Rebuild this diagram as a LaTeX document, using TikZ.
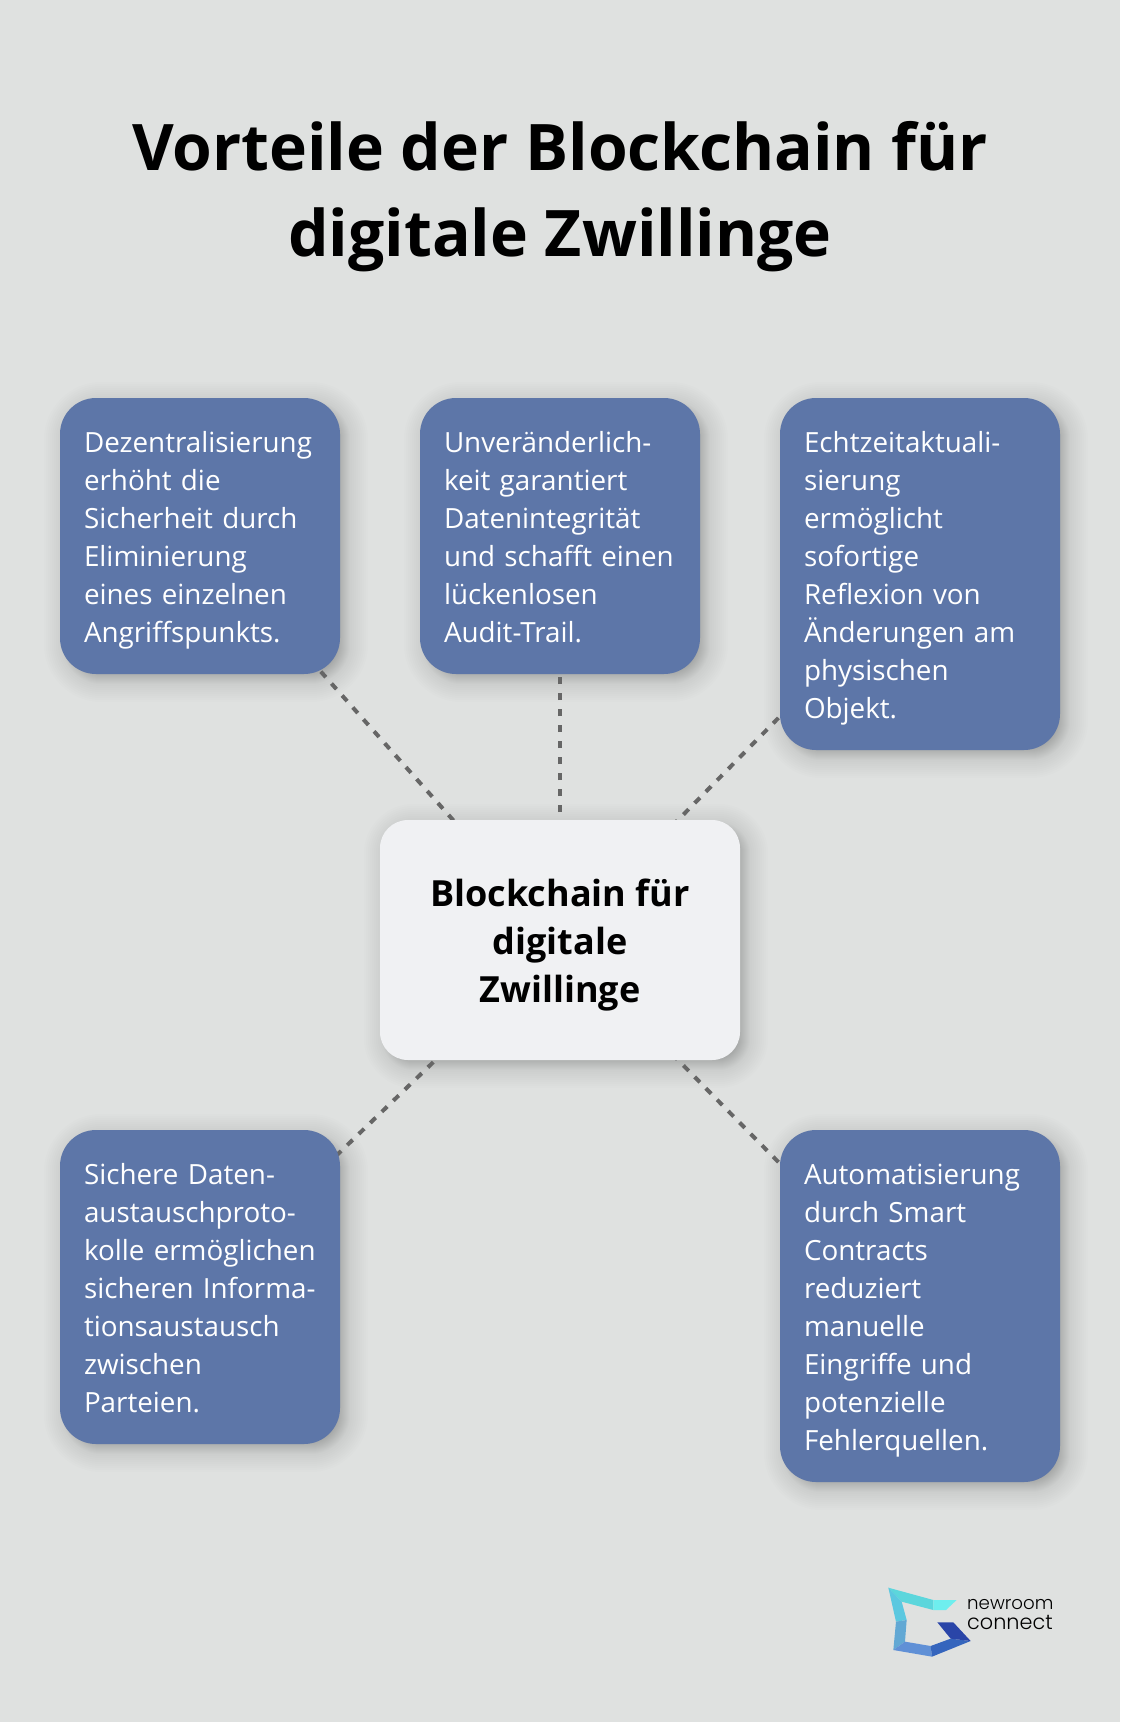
\documentclass[tikz,border=0pt]{standalone}
\usepackage{fontspec}
\setmainfont{Open Sans}
\newfontfamily\logofont{Poppins Light}
\pgfdeclarelayer{bglayer}
\pgfdeclarelayer{shadowlayer}
\pgfdeclarelayer{connlayer}
\pgfsetlayers{bglayer,shadowlayer,connlayer,main}
\definecolor{pagebg}{HTML}{DFE1E0}
\definecolor{boxblue}{HTML}{5D76A8}
\definecolor{centerfill}{HTML}{F0F1F3}
\definecolor{dashgrey}{HTML}{666666}
\newcommand{\lstrut}{\rule[-8pt]{0pt}{38pt}}
\tikzset{
  x=1pt,y=-1pt,
  infobox/.style={fill=boxblue,rounded corners=36pt,text=white,minimum width=280pt,
    text width=232pt,inner sep=24pt,align=left,
    font=\fontsize{27.8}{38}\selectfont},
  centerbox/.style={fill=centerfill,rounded corners=28pt,text=black,minimum width=360pt,
    minimum height=240pt,align=center,inner sep=0pt,
    font=\fontsize{36}{48}\selectfont\bfseries},
  conn/.style={draw=dashgrey,line width=4pt,dash pattern=on 7.5pt off 8.5pt},
  titletext/.style={align=center,inner sep=0pt,text=black,font=\fontsize{64.2}{86}\selectfont\bfseries},
  logotext/.style={align=left,inner sep=0pt,text=black,font=\logofont\fontsize{18.2}{20}\selectfont}
}
% soft shadow drawn as stacked translucent rounded rectangles
\newcommand{\softshadow}[2]{%
  \begin{pgfonlayer}{shadowlayer}
    \foreach \e in {-12,-11,...,4}{
      \fill[black,opacity=.012,rounded corners=#2+\e]
        ([shift={(6-\e,6+\e)}]#1.south west) rectangle ([shift={(6+\e,6-\e)}]#1.north east);
    }
    \foreach \e in {6,8,...,22}{
      \fill[black,opacity=.006,rounded corners=#2+\e]
        ([shift={(6-\e,6+\e)}]#1.south west) rectangle ([shift={(6+\e,6-\e)}]#1.north east);
    }
  \end{pgfonlayer}}
\begin{document}
\begin{tikzpicture}
\useasboundingbox (0,0) rectangle (1120,1722);
\begin{pgfonlayer}{bglayer}
  \fill[pagebg] (0,0) rectangle (1120,1722);
\end{pgfonlayer}

\node[titletext] (title) at (560,197) {Vorteile der Blockchain für\\digitale Zwillinge};

\node[infobox,minimum height=276pt] (b1) at (200,536) {\lstrut Dezentralisierung\\erhöht die\\Sicherheit durch\\Eliminierung\\eines einzelnen\\Angriffspunkts.\lstrut};
\node[infobox,minimum height=276pt] (b2) at (560,536) {\lstrut Unveränderlich-\\keit garantiert\\Datenintegrität\\und schafft einen\\lückenlosen\\Audit-Trail.\lstrut};
\node[infobox,minimum height=352pt] (b3) at (920,574) {\lstrut Echtzeitaktuali-\\sierung\\ermöglicht\\sofortige\\Reflexion von\\Änderungen am\\physischen\\Objekt.\lstrut};
\node[centerbox] (c) at (560,940) {\rule{0pt}{38pt}Blockchain für\\digitale\\Zwillinge};
\node[infobox,minimum height=314pt] (b4) at (200,1287) {\lstrut Sichere Daten-\\austauschproto-\\\mbox{kolle ermöglichen}\\\mbox{sicheren Informa-}\\tionsaustausch\\zwischen\\Parteien.\lstrut};
\node[infobox,minimum height=352pt] (b5) at (920,1306) {\lstrut Automatisierung\\durch Smart\\Contracts\\reduziert\\manuelle\\Eingriffe und\\potenzielle\\Fehlerquellen.\lstrut};

\softshadow{b1}{36}
\softshadow{b2}{36}
\softshadow{b3}{36}
\softshadow{b4}{36}
\softshadow{b5}{36}
\softshadow{c}{28}

\begin{pgfonlayer}{connlayer}
  \draw[conn] (c.center) -- (b1.center);
  \draw[conn] (c.center) -- (b2.center);
  \draw[conn] (c.center) -- (b3.center);
  \draw[conn] (c.center) -- (b4.center);
  \draw[conn] (c.center) -- (b5.center);
\end{pgfonlayer}

% logo mark
\begin{scope}[shift={(860,1540)},x=0.3333pt,y=-0.3333pt]
  \fill[fill={rgb,255:red,92;green,214;blue,220}] (85,143) -- (220,180) -- (220,210) -- (125,185) -- cycle;
  \fill[fill={rgb,255:red,110;green,238;blue,238}] (220,180) -- (290,180) -- (258,210) -- (220,210) -- cycle;
  \fill[fill={rgb,255:red,91;green,200;blue,224}] (85,143) -- (125,185) -- (140,240) -- (108,245) -- cycle;
  \fill[fill={rgb,255:red,98;green,168;blue,212}] (108,245) -- (140,240) -- (135,305) -- (100,330) -- cycle;
  \fill[fill={rgb,255:red,96;green,144;blue,214}] (100,330) -- (135,305) -- (212,318) -- (216,350) -- cycle;
  \fill[fill={rgb,255:red,53;green,101;blue,189}] (216,350) -- (212,318) -- (272,296) -- (332,303) -- cycle;
  \fill[fill={rgb,255:red,42;green,69;blue,168}] (232,247) -- (280,247) -- (332,303) -- (272,296) -- cycle;
\end{scope}
\node[logotext,anchor=base west] (logo) at (967,1629) {newroom\\{\fontsize{20.8}{20}\selectfont connect}};
\end{tikzpicture}
\end{document}
